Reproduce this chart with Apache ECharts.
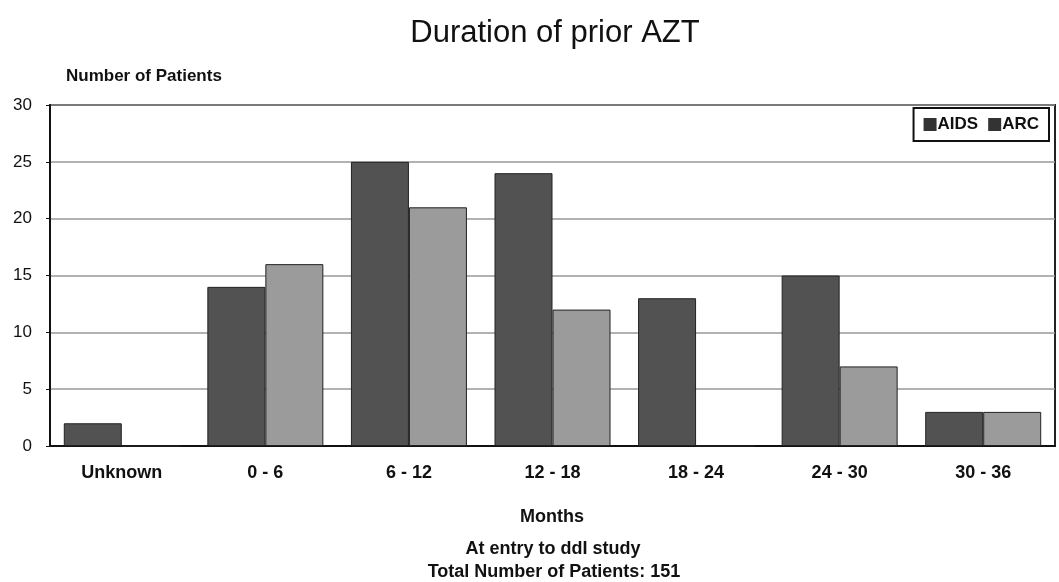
<!DOCTYPE html>
<html>
<head>
<meta charset="utf-8">
<script src="https://cdn.jsdelivr.net/npm/echarts@6/dist/echarts.min.js"></script>
<style>
  html, body { margin: 0; padding: 0; background: #fff; }
  #chart { width: 1059px; height: 582px; }
</style>
</head>
<body>
<div id="chart"></div>
<script>
// Duration of prior AZT therapy, patients grouped by months
const categories = ['Unknown', '0 - 6', '6 - 12', '12 - 18', '18 - 24', '24 - 30', '30 - 36'];
const aidsValues = [2, 14, 25, 24, 13, 15, 3];
const arcValues = [0, 16, 21, 12, 0, 7, 3];
const yTicks = [0, 5, 10, 15, 20, 25, 30];

const FONT = '"Liberation Sans", Arial, sans-serif';
const bold = (size) => ({ fontSize: size, fontWeight: 'bold', color: '#111', fontFamily: FONT });

const chart = echarts.init(document.getElementById('chart'));
chart.setOption({
  animation: false,
  backgroundColor: '#fff',
  textStyle: { fontFamily: FONT },
  title: [
    { text: 'Duration of prior AZT', left: 550, top: 13, textAlign: 'center',
      textStyle: { fontSize: 31, fontWeight: 'normal', color: '#111', fontFamily: FONT } },
    { text: 'Number of Patients', left: 61, top: 63, textStyle: bold(17) },
    { text: 'Months', left: 547, top: 503, textAlign: 'center', textStyle: bold(18) },
    { text: 'At entry to ddI study', left: 548, top: 535, textAlign: 'center', textStyle: bold(18) },
    { text: 'Total Number of Patients: 151', left: 549, top: 558, textAlign: 'center', textStyle: bold(18) }
  ],
  legend: {
    right: 10, top: 108,
    itemWidth: 13, itemHeight: 13, itemGap: 10,
    borderColor: '#111', borderWidth: 2, padding: [8, 10, 8, 10],
    textStyle: Object.assign(bold(17), { padding: [0, 0, 0, -4] }),
    data: [
      { name: 'AIDS', icon: 'rect', itemStyle: { color: '#333', borderWidth: 0 } },
      { name: 'ARC', icon: 'rect', itemStyle: { color: '#333', borderWidth: 0 } }
    ]
  },
  grid: { left: 50, right: 4, top: 105, bottom: 136, show: true, borderColor: '#222', borderWidth: 2 },
  xAxis: {
    type: 'category',
    data: categories,
    axisLine: { lineStyle: { color: '#111', width: 2 } },
    axisTick: { show: false },
    axisLabel: Object.assign(bold(18), { margin: 18 })
  },
  yAxis: {
    type: 'value',
    min: yTicks[0], max: yTicks[yTicks.length - 1], interval: 5,
    axisLine: { show: true, lineStyle: { color: '#111', width: 2 } },
    axisTick: { show: true, length: 4, lineStyle: { color: '#111' } },
    axisLabel: { fontSize: 17, color: '#111', margin: 18, fontFamily: FONT },
    splitLine: { lineStyle: { color: '#999', width: 1.5 } }
  },
  series: [
    { name: 'AIDS', type: 'bar', data: aidsValues, barWidth: 58, barGap: '0%',
      itemStyle: { color: '#525252', borderColor: '#222', borderWidth: 1 } },
    { name: 'ARC', type: 'bar', data: arcValues, barWidth: 58, barGap: '0%',
      itemStyle: { color: '#9b9b9b', borderColor: '#222', borderWidth: 1 } }
  ]
});
</script>
</body>
</html>
